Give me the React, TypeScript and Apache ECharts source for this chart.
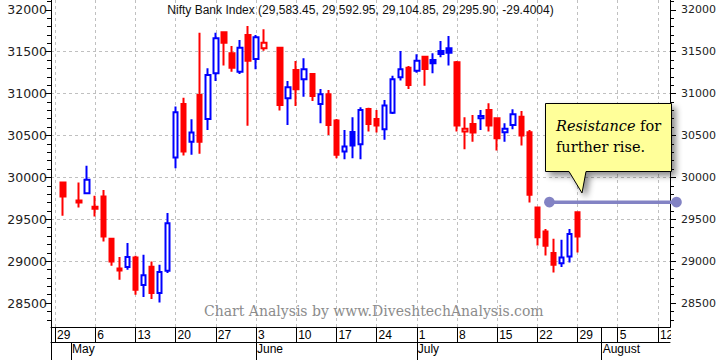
import React, { useEffect, useRef } from "react";
import * as echarts from "echarts";

// ---------- data ----------
const axisStart = "2019-04-29";
const axisEnd = "2019-08-13";

const candleDates = [
  "2019-04-30", "2019-05-02", "2019-05-03", "2019-05-06", "2019-05-07", "2019-05-08", "2019-05-09", "2019-05-10",
  "2019-05-13", "2019-05-14", "2019-05-15", "2019-05-16", "2019-05-17",
  "2019-05-20", "2019-05-21", "2019-05-22", "2019-05-23", "2019-05-24",
  "2019-05-27", "2019-05-28", "2019-05-29", "2019-05-30", "2019-05-31",
  "2019-06-03", "2019-06-04", "2019-06-06", "2019-06-07",
  "2019-06-10", "2019-06-11", "2019-06-12", "2019-06-13", "2019-06-14",
  "2019-06-17", "2019-06-18", "2019-06-19", "2019-06-20", "2019-06-21",
  "2019-06-24", "2019-06-25", "2019-06-26", "2019-06-27", "2019-06-28",
  "2019-07-01", "2019-07-02", "2019-07-03", "2019-07-04", "2019-07-05",
  "2019-07-08", "2019-07-09", "2019-07-10", "2019-07-11", "2019-07-12",
  "2019-07-15", "2019-07-16", "2019-07-17", "2019-07-18", "2019-07-19",
  "2019-07-22", "2019-07-23", "2019-07-24", "2019-07-25", "2019-07-26",
  "2019-07-29",
];

const opens = [
  29939, 29724, 29812, 29649, 29772, 29267, 28913, 28930,
  29044, 28715, 28933, 28620, 28886,
  30237, 30877, 30427, 30984, 30698,
  31243, 31732, 31481, 31262, 31700,
  31413, 31541, 31548, 30945,
  31282, 31171, 31235, 30877, 30993,
  30678, 30308, 30543, 30396, 30817,
  30698, 30575, 30773, 31195, 31310,
  31274, 31441, 31401, 31509, 31541,
  31374, 30547, 30638, 30706, 30805,
  30706, 30539, 30626, 30725, 30539,
  29640, 29354, 29097, 28977, 29057,
  29583.45,
];

const closes = [
  29772, 29700, 29971, 29625, 29295, 28997, 28889, 29049,
  28659, 28834, 28620, 28870, 29454,
  30778, 30308, 30535, 30427, 31223,
  31660, 31608, 31310, 31548, 31393,
  31672, 31608, 30865, 31076,
  31052, 31291, 30972, 30993, 30626,
  30269, 30368, 30380, 30805, 30638,
  30618, 30857, 31171, 31291, 31103,
  31393, 31294, 31362, 31473, 31489,
  30618, 30582, 30535, 30734, 30618,
  30468, 30582, 30754, 30499, 29792,
  29287, 29184, 28957, 29044, 29325,
  29295.9,
];

const lows = [
  29542, 29640, 29800, 29533, 29235, 28945, 28778, 28898,
  28600, 28572, 28548, 28508, 28858,
  30110, 30260, 30269, 30281, 30567,
  31151, 31334, 31262, 31235, 30615,
  31291, 31512, 30797, 30626,
  30853, 30964, 30913, 30647, 30507,
  30229, 30217, 30229, 30217, 30547,
  30535, 30448, 30758, 31155, 31056,
  31250, 31095, 31243, 31434, 31334,
  30547, 30337, 30427, 30567, 30547,
  30320, 30427, 30575, 30380, 29700,
  29187, 29068, 28866, 28930, 28985,
  29104.85,
];

const highs = [
  29945, 29939, 30138, 29780, 29851, 29270, 29049, 29216,
  29064, 29077, 28997, 28957, 29574,
  30845, 30952, 30694, 31727, 31303,
  31727, 31735, 31568, 31640, 31807,
  31700, 31768, 31560, 31151,
  31390, 31422, 31240, 31056, 31044,
  30698, 30567, 30718, 30837, 30830,
  30805, 30925, 31214, 31509, 31330,
  31469, 31450, 31481, 31628, 31688,
  31390, 30718, 30746, 30805, 30885,
  30715, 30647, 30814, 30793, 30567,
  29645, 29383, 29267, 29255, 29383,
  29592.95,
];

const titleText = "Nifty Bank Index (29,583.45, 29,592.95, 29,104.85, 29,295.90, -29.4004)";
const yMin = 28215;
const yMax = 32117;
const yMajorTicks = [28500, 29000, 29500, 30000, 30500, 31000, 31500, 32000];
const yMinorStep = 100;
const monthNames = ["January", "February", "March", "April", "May", "June", "July", "August", "September", "October", "November", "December"];
const dayRowExtraBreaks = ["2019-08-01"];
const resistanceLevel = 29705;
const resistanceStartBetween = ["2019-07-23", "2019-07-24"];
const calloutLines = ["{i|Resistance} for", "further rise."];
const watermarkText = "Chart Analysis by www.DiveshtechAnalysis.com";

// ---------- helpers ----------
function weekdays(start: string, end: string): string[] {
  const out: string[] = [];
  const d = new Date(start + "T00:00:00Z");
  const e = new Date(end + "T00:00:00Z");
  while (d <= e) {
    const wd = d.getUTCDay();
    if (wd !== 0 && wd !== 6) out.push(d.toISOString().slice(0, 10));
    d.setUTCDate(d.getUTCDate() + 1);
  }
  return out;
}
const dow = (s: string) => new Date(s + "T00:00:00Z").getUTCDay();

const W = 721;
const H = 360;
const G_LEFT = 51;
const G_RIGHT = 51;
const G_TOP = 0;
const G_BOTTOM = 33;

export default function App() {
  const ref = useRef<HTMLDivElement>(null);

  useEffect(() => {
    document.body.style.margin = "0";
    if (!ref.current) return;
    const chart = echarts.init(ref.current, undefined, { renderer: "svg", width: W, height: H });

    const cats = weekdays(axisStart, axisEnd);
    const isMonday = cats.map((c) => dow(c) === 1);
    const isMonthStart = cats.map((c, i) => i > 0 && c.slice(5, 7) !== cats[i - 1].slice(5, 7));
    const isDayBreak = cats.map((c, i) => isMonday[i] || dayRowExtraBreaks.includes(c));

    const minorTicks: number[] = [];
    for (let v = Math.ceil(yMin / yMinorStep) * yMinorStep; v <= yMax; v += yMinorStep) minorTicks.push(v);

    const items = cats.map((c) => {
      const k = candleDates.indexOf(c);
      if (k < 0) return { value: ["-", "-", "-", "-"] };
      const prev = k === 0 ? Infinity : closes[k - 1];
      const col = closes[k] > prev ? "#0000ff" : "#ff0000";
      const fill = closes[k] > opens[k] ? "#ffffff" : col;
      return {
        value: [opens[k], closes[k], lows[k], highs[k]],
        itemStyle: { color: fill, color0: fill, borderColor: col, borderColor0: col, borderWidth: 2 },
      };
    });

    const sans = "'Liberation Sans', Arial, sans-serif";
    const dejavu = "'DejaVu Sans', sans-serif";
    const serif = "'DejaVu Serif', serif";
    const black = { color: "#000", width: 1 };

    const yBase: any = { type: "value", min: yMin, max: yMax, gridIndex: 0, scale: true };
    const majorFmt = (v: number) => (Math.round(v) % 500 === 0 ? String(Math.round(v)) : "");

    chart.setOption({
      animation: false,
      backgroundColor: "#ffffff",
      title: {
        text: titleText,
        left: "center",
        top: 4,
        padding: 0,
        textStyle: { fontFamily: sans, fontSize: 12, fontWeight: "normal", color: "#111" },
      },
      grid: {
        left: G_LEFT, right: G_RIGHT, top: G_TOP, bottom: G_BOTTOM,
        containLabel: false, outerBoundsMode: "none",
      },
      xAxis: [
        {
          type: "category", data: cats, boundaryGap: true, gridIndex: 0, position: "bottom",
          axisLine: { show: true, lineStyle: black },
          axisTick: { show: true, alignWithLabel: true, inside: false, length: 15, interval: (i: number) => isDayBreak[i], lineStyle: black },
          axisLabel: {
            show: true, interval: (i: number) => isMonday[i], hideOverlap: false,
            formatter: (v: string) => String(Number(v.slice(8))),
            align: "left", margin: 2, padding: [0, 0, 0, 2],
            fontFamily: sans, fontSize: 12, color: "#000",
          },
          splitLine: { show: false },
        },
        {
          type: "category", data: cats, boundaryGap: true, gridIndex: 0, position: "bottom", offset: 15,
          axisLine: { show: true, lineStyle: black },
          axisTick: { show: true, alignWithLabel: true, inside: false, length: 18, interval: (i: number) => isMonthStart[i], lineStyle: black },
          axisLabel: {
            show: true, interval: (i: number) => isMonthStart[i], hideOverlap: false,
            formatter: (v: string) => monthNames[Number(v.slice(5, 7)) - 1],
            align: "left", margin: 1, padding: [0, 0, 0, 1],
            fontFamily: sans, fontSize: 12, color: "#000",
          },
          splitLine: { show: false },
        },
      ],
      yAxis: [
        {
          ...yBase, position: "left", splitNumber: 8,
          axisLine: { show: true, lineStyle: black },
          axisTick: { show: true, length: 6, customValues: yMajorTicks, lineStyle: black },
          axisLabel: { customValues: yMajorTicks, formatter: majorFmt, margin: 4, fontFamily: dejavu, fontSize: 12.5, color: "#222", showMinLabel: true, showMaxLabel: true },
          splitLine: { show: true, showMinLine: false, showMaxLine: false, lineStyle: { type: [3, 3], color: "#c0c0c0", width: 1 } },
        },
        {
          ...yBase, position: "left", splitNumber: 39,
          axisLine: { show: true, lineStyle: black },
          axisTick: { show: true, length: 4, customValues: minorTicks, lineStyle: black },
          axisLabel: { show: false },
          splitLine: { show: false },
        },
        {
          ...yBase, position: "right", splitNumber: 8,
          axisLine: { show: true, lineStyle: black },
          axisTick: { show: true, length: 6, customValues: yMajorTicks, lineStyle: black },
          axisLabel: { customValues: yMajorTicks, formatter: majorFmt, margin: 11, fontFamily: dejavu, fontSize: 11, color: "#222" },
          splitLine: { show: false },
        },
        {
          ...yBase, position: "right", splitNumber: 39,
          axisLine: { show: true, lineStyle: black },
          axisTick: { show: true, length: 4, customValues: minorTicks, lineStyle: black },
          axisLabel: { show: false },
          splitLine: { show: false },
        },
      ],
      series: [
        {
          type: "candlestick",
          xAxisIndex: 0,
          yAxisIndex: 0,
          barWidth: 5,
          itemStyle: { borderWidth: 2 },
          data: items,
          markLine: {
            silent: true,
            z: 1,
            symbol: ["none", "none"],
            label: { show: false },
            lineStyle: { type: [3, 3], color: "#c0c0c0", width: 1 },
            emphasis: { disabled: true },
            data: cats.filter((c, i) => isMonday[i]).map((c) => ({ xAxis: c })),
          },
        },
      ],
    });

    // annotations positioned through the chart's scales
    const yRes = chart.convertToPixel({ yAxisIndex: 0 }, resistanceLevel) as number;
    const xa = chart.convertToPixel({ xAxisIndex: 0 }, resistanceStartBetween[0]) as number;
    const xb = chart.convertToPixel({ xAxisIndex: 0 }, resistanceStartBetween[1]) as number;
    const xStart = (xa + xb) / 2;
    const plotRight = W - G_RIGHT;
    const xEnd = plotRight + 6.5;
    const plotBottom = H - G_BOTTOM;
    const lineCol = "#8383c4";

    const bx0 = 545.5, by0 = 103.5, bx1 = 671.5, by1 = 171.5;

    chart.setOption({
      graphic: [
        {
          type: "line", silent: true, z: 100,
          shape: { x1: G_LEFT + 0.5, y1: plotBottom, x2: G_LEFT + 0.5, y2: H },
          style: { stroke: "#000", lineWidth: 1 },
        },
        {
          type: "rect", silent: true, z: 90,
          shape: { x: plotRight + 1, y: plotBottom + 1, width: W - plotRight - 1, height: 14 },
          style: { fill: "#ffffff" },
        },
        {
          type: "text", silent: true, z: 50,
          x: 204, y: 311,
          style: { text: watermarkText, fontFamily: serif, fontSize: 14, fill: "#8c8c8c", verticalAlign: "middle", align: "left" },
        },
        {
          type: "line", silent: true, z: 100,
          shape: { x1: xStart, y1: yRes, x2: xEnd, y2: yRes },
          style: { stroke: lineCol, lineWidth: 3.5 },
        },
        { type: "circle", silent: true, z: 101, shape: { cx: xStart, cy: yRes, r: 5.3 }, style: { fill: lineCol } },
        { type: "circle", silent: true, z: 101, shape: { cx: xEnd, cy: yRes, r: 5.3 }, style: { fill: lineCol } },
        {
          type: "polygon", silent: true, z: 110,
          shape: {
            points: [[bx0, by0], [bx1, by0], [bx1, by1], [586, by1], [582, 193], [569, by1], [bx0, by1]],
          },
          style: {
            fill: "#ffff99", stroke: "#000", lineWidth: 1,
            shadowBlur: 6, shadowColor: "rgba(0,0,0,0.45)", shadowOffsetX: 4, shadowOffsetY: 4,
          },
        },
        {
          type: "text", silent: true, z: 111,
          x: 556, y: 115.5,
          style: {
            text: calloutLines.join("\n"),
            fontFamily: serif, fontSize: 14.5, lineHeight: 21, fill: "#000",
            rich: { i: { fontFamily: serif, fontSize: 14.5, lineHeight: 21, fontStyle: "italic", fill: "#000" } },
          },
        },
      ],
    });

    return () => chart.dispose();
  }, []);

  return (
    <div
      ref={ref}
      style={{ position: "fixed", left: 0, top: 0, width: W, height: H, background: "#fff" }}
    />
  );
}
